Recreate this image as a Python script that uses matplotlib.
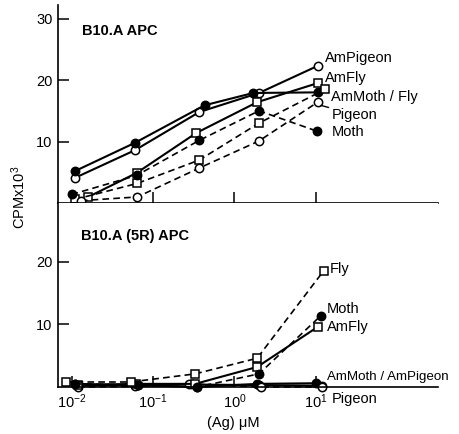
import matplotlib
matplotlib.use("Agg")
import matplotlib.pyplot as plt

plt.rcParams["font.family"] = ["Liberation Sans", "DejaVu Sans"]
plt.rcParams["mathtext.default"] = "regular"

# ── Data: upper panel (B10.A APC) ────────────────────────────────────────────
up_ampigeon_x = [0.011, 0.060, 0.37, 2.0, 10.5]
up_ampigeon_y = [4.1, 8.6, 14.8, 17.9, 22.3]
up_ammoth_x = [0.011, 0.060, 0.43, 1.7, 10.5]
up_ammoth_y = [5.2, 9.8, 15.9, 17.9, 18.0]
up_amfly_x = [0.016, 0.063, 0.34, 1.9, 10.5]
up_amfly_y = [1.0, 4.9, 11.4, 16.4, 19.5]
up_fly_x = [0.011, 0.064, 0.37, 2.0, 13.0]
up_fly_y = [0.6, 3.2, 7.0, 13.0, 18.5]
up_pigeon_x = [0.013, 0.064, 0.37, 2.0, 10.5]
up_pigeon_y = [0.4, 1.0, 5.7, 10.1, 16.4]
up_moth_x = [0.010, 0.063, 0.37, 2.0, 10.3]
up_moth_y = [1.4, 4.5, 10.2, 15.0, 11.7]

# ── Data: lower panel (B10.A (5R) APC) ───────────────────────────────────────
lo_fly_x = [0.0085, 0.053, 0.33, 1.9, 12.5]
lo_fly_y = [0.8, 0.8, 2.1, 4.6, 18.6]
lo_moth_x = [0.011, 0.065, 0.35, 2.0, 11.5]
lo_moth_y = [0.5, 0.3, 0.0, 2.1, 11.4]
lo_amfly_x = [0.012, 0.062, 0.33, 1.9, 10.5]
lo_amfly_y = [0.3, 0.5, 0.5, 3.2, 9.6]
lo_ammoth_x = [0.011, 0.065, 0.35, 1.9, 10.0]
lo_ammoth_y = [0.5, 0.3, 0.0, 0.5, 0.6]
lo_ampigeon_x = [0.012, 0.060, 0.30, 2.0, 12.0]
lo_ampigeon_y = [0.2, 0.3, 0.4, 0.3, 0.2]
lo_pigeon_x = [0.012, 0.060, 0.28, 2.1, 12.0]
lo_pigeon_y = [0.0, 0.1, 0.5, 0.0, 0.0]

XTICKS = [0.01, 0.1, 1, 10]
XTICKLABELS = ["$10^{-2}$", "$10^{-1}$", "$10^{0}$", "$10^{1}$"]

SOLID = dict(color="black", lw=1.5, ls="-")
DASH = dict(color="black", lw=1.2, ls=(0, (4, 2.5)))
OPEN_C = dict(marker="o", mfc="white", mec="black", ms=6, mew=1.1)
FILL_C = dict(marker="o", mfc="black", mec="black", ms=6, mew=1.1)
OPEN_S = dict(marker="s", mfc="white", mec="black", ms=6, mew=1.1)

fig = plt.figure(figsize=(4.59, 4.34), dpi=100)
ax_up = fig.add_axes([0.1264, 0.532, 0.828, 0.4565])
ax_lo = fig.add_axes([0.1264, 0.1083, 0.828, 0.4237])

for ax in (ax_up, ax_lo):
    ax.set_xscale("log")
    ax.set_xlim(10 ** -2.166, 10 ** 2.5)
    for s in ("top", "right"):
        ax.spines[s].set_visible(False)
    ax.spines["left"].set_linewidth(1.2)
    ax.spines["bottom"].set_linewidth(1.2)
    ax.set_xticks(XTICKS)
    ax.minorticks_off()
    ax.tick_params(axis="both", direction="in", length=8, width=1.1,
                   labelsize=10.5, pad=4)

# upper panel
ax_up.set_ylim(0, 32.2)
ax_up.set_yticks([10, 20, 30])
ax_up.set_xticklabels([])
ax_up.plot(up_ampigeon_x, up_ampigeon_y, **SOLID, **OPEN_C, clip_on=False)
ax_up.plot(up_ammoth_x, up_ammoth_y, **SOLID, **FILL_C, clip_on=False)
ax_up.plot(up_amfly_x, up_amfly_y, **SOLID, **OPEN_S, clip_on=False)
ax_up.plot(up_fly_x, up_fly_y, **DASH, **OPEN_S, clip_on=False)
ax_up.plot(up_pigeon_x, up_pigeon_y, **DASH, **OPEN_C, clip_on=False)
ax_up.plot(up_moth_x, up_moth_y, **DASH, **FILL_C, clip_on=False)

ax_up.text(0.0135, 27.9, "B10.A APC", fontsize=10.5, fontweight="bold",
           va="center")
lab = dict(fontsize=10.5, va="center", clip_on=False)
ax_up.text(13.0, 23.6, "AmPigeon", **lab)
ax_up.text(13.0, 20.3, "AmFly", **lab)
ax_up.text(15.5, 17.2, "AmMoth / Fly", **lab)
ax_up.annotate("Pigeon", xy=(10.7, 16.0), xytext=(15.5, 14.4),
               arrowprops=dict(arrowstyle="-", lw=1.0, color="black",
                               shrinkA=0, shrinkB=2), **lab)
ax_up.text(15.5, 11.5, "Moth", **lab)

# lower panel
ax_lo.set_ylim(0, 29.4)
ax_lo.set_yticks([10, 20])
ax_lo.set_xticklabels(XTICKLABELS)
ax_lo.plot(lo_ampigeon_x, lo_ampigeon_y, **SOLID, **OPEN_C, clip_on=False)
ax_lo.plot(lo_ammoth_x, lo_ammoth_y, **SOLID, **FILL_C, clip_on=False)
ax_lo.plot(lo_pigeon_x, lo_pigeon_y, **DASH, **OPEN_C, clip_on=False)
ax_lo.plot(lo_amfly_x, lo_amfly_y, **SOLID, **OPEN_S, clip_on=False)
ax_lo.plot(lo_moth_x, lo_moth_y, **DASH, **FILL_C, clip_on=False)
ax_lo.plot(lo_fly_x, lo_fly_y, **DASH, **OPEN_S, clip_on=False)

ax_lo.text(0.0132, 24.2, "B10.A (5R) APC", fontsize=10.5, fontweight="bold",
           va="center")
ax_lo.text(15.0, 18.9, "Fly", **lab)
ax_lo.text(13.7, 12.5, "Moth", **lab)
ax_lo.text(13.7, 9.6, "AmFly", **lab)
ax_lo.text(13.7, 1.6, "AmMoth / AmPigeon", fontsize=9.6, va="center",
           clip_on=False)
ax_lo.text(15.5, -1.9, "Pigeon", **lab)

fig.text(0.04, 0.546, "CPMx10$^3$", rotation=90, fontsize=10.5,
         ha="center", va="center")
fig.text(0.508, 0.026, "(Ag) μM", fontsize=10.5, ha="center", va="center")

fig.savefig("out.png", dpi=100)
